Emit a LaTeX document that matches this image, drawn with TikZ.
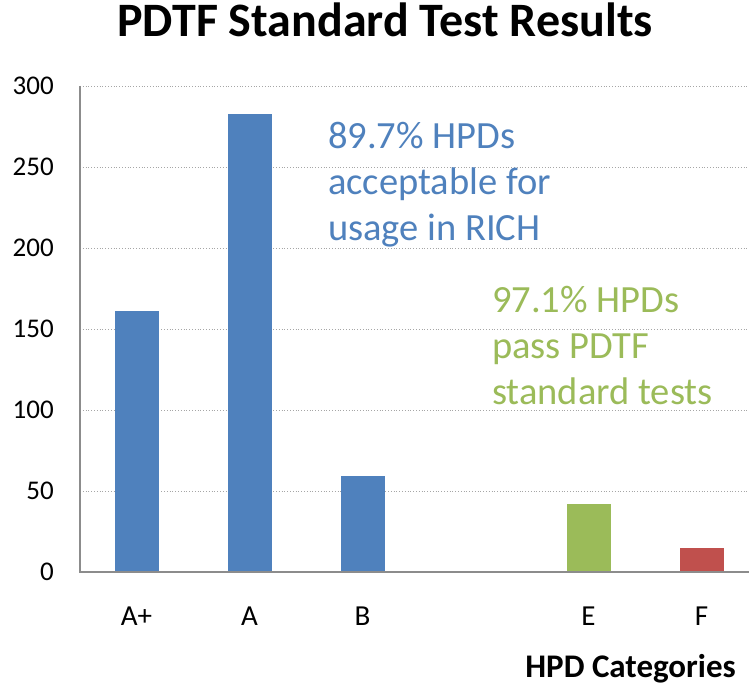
\documentclass[tikz,border=0pt]{standalone}
\usepackage{fontspec}
\setmainfont{Carlito}
\usetikzlibrary{positioning}
\definecolor{barblue}{HTML}{4F81BD}
\definecolor{bargreen}{HTML}{9BBB59}
\definecolor{barred}{HTML}{C0504D}
\definecolor{axisgray}{HTML}{8C8C8C}

\begin{document}
\begin{tikzpicture}[
	x=1pt, y=1pt,
	grid/.style={draw=gray!70, dotted, line width=0.8pt},
	axisline/.style={draw=axisgray, line width=2pt},
	ticklabel/.style={anchor=east, inner sep=0pt, font=\fontsize{27}{32}\selectfont},
	catlabel/.style={anchor=base, inner sep=0pt, font=\fontsize{29}{34}\selectfont},
	note/.style={anchor=north west, inner sep=0pt, align=left, font=\fontsize{38.5}{46}\selectfont}
	]
	\useasboundingbox[fill=white] (0,0) rectangle (749,688);

	% title
	\node[anchor=base, inner sep=0pt, font=\fontsize{48}{54}\selectfont\bfseries] (title) at (385,651) {PDTF Standard Test Results};

	% gridlines and value labels
	\foreach \v in {0,50,...,300} {
		\draw[grid] (80,116+1.62*\v) -- (749,116+1.62*\v);
		\node[ticklabel] (t\v) at (54,116+1.62*\v) {\v};
	}

	% bars
	\foreach \c/\s/\v/\col in {A+/0/161/barblue, A/1/283/barblue, B/2/59/barblue, E/4/42/bargreen, F/5/15/barred} {
		\fill[\col] (114.5+113*\s,116) rectangle (158.5+113*\s,116+1.62*\v);
		\node[catlabel] (c\s) at (136.5+113*\s,63) {\c};
	}

	% axes
	\draw[axisline] (80,602) -- (80,116) -- (749,116);
	\node[anchor=base east, inner sep=0pt, font=\fontsize{33}{38}\selectfont\bfseries] (xlabel) at (736,11) {HPD Categories};

	% notes
	\node[note, text=barblue] (usage) at (328,566) {89.7\% HPDs\\acceptable for\\usage in RICH};
	\node[note, text=bargreen] (pass) at (492,402) {97.1\% HPDs\\pass PDTF\\standard tests};
\end{tikzpicture}
\end{document}
